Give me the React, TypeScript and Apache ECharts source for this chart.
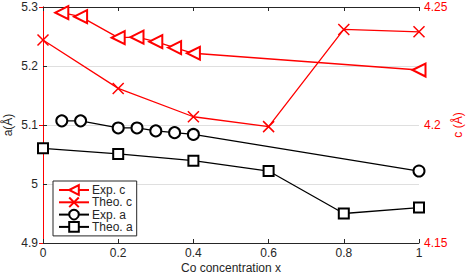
import React, { useEffect, useRef } from "react";
import * as echarts from "echarts";

const xExpC = [0.05, 0.1, 0.2, 0.25, 0.3, 0.35, 0.4, 1.0];
const expC = [4.2476, 4.2459, 4.237, 4.2372, 4.2353, 4.2328, 4.2304, 4.2233];
const xTheo = [0, 0.2, 0.4, 0.6, 0.8, 1.0];
const theoC = [4.236, 4.2155, 4.2035, 4.1993, 4.2405, 4.2395];
const xExpA = [0.05, 0.1, 0.2, 0.25, 0.3, 0.35, 0.4, 1.0];
const expA = [5.107, 5.107, 5.095, 5.095, 5.09, 5.087, 5.084, 5.022];
const theoA = [5.0605, 5.051, 5.0395, 5.022, 4.95, 4.96];

const seriesNames = ["Exp. c", "Theo. c", "Exp. a", "Theo. a"];

const RED = "#ff0000";
const DARK = "#262626";
const FONT = "Liberation Sans";

const pairs = (xs: number[], ys: number[]) => xs.map((x, i) => [x, ys[i]]);

export default function App() {
  const ref = useRef<HTMLDivElement>(null);
  useEffect(() => {
    if (!ref.current) return;
    const chart = echarts.init(ref.current, undefined, { renderer: "svg" });
    const xAxisCommon = {
      type: "value",
      min: 0,
      max: 1,
      interval: 0.2,
      axisLine: { show: true, lineStyle: { color: DARK, width: 1 } },
      axisTick: { show: true, inside: true, length: 4, lineStyle: { color: DARK } },
      splitLine: { show: false },
    };
    chart.setOption({
      animation: false,
      textStyle: { fontFamily: FONT },
      grid: { left: 43, right: 50, top: 7, bottom: 32, containLabel: false, outerBoundsMode: "none" },
      legend: {
        orient: "vertical",
        left: 53,
        top: 181,
        data: seriesNames,
        itemWidth: 30,
        itemHeight: 12,
        itemGap: 0.3,
        padding: [3, 4, 3, 5],
        borderColor: DARK,
        borderWidth: 1,
        backgroundColor: "#fff",
        textStyle: { fontFamily: FONT, fontSize: 12, lineHeight: 12, color: DARK, padding: [0, 0, 0, -2] },
      },
      xAxis: [
        {
          ...xAxisCommon,
          position: "bottom",
          name: "Co concentration x",
          nameLocation: "middle",
          nameGap: 19,
          nameMoveOverlap: false,
          nameTextStyle: { fontFamily: FONT, fontSize: 12, color: DARK },
          axisLabel: { fontFamily: FONT, fontSize: 12, color: DARK, margin: 4 },
        },
        {
          ...xAxisCommon,
          position: "top",
          axisLabel: { show: false },
        },
      ],
      yAxis: [
        {
          type: "value",
          position: "left",
          min: 4.9,
          max: 5.3,
          interval: 0.1,
          name: "a(Å)",
          nameLocation: "middle",
          nameRotate: 90,
          nameGap: 29,
          nameMoveOverlap: false,
          nameTextStyle: { fontFamily: FONT, fontSize: 12, color: DARK },
          axisLine: { show: true, lineStyle: { color: DARK, width: 1 } },
          axisTick: { show: true, inside: true, length: 4, lineStyle: { color: DARK } },
          axisLabel: { fontFamily: FONT, fontSize: 12, color: DARK, margin: 5 },
          splitLine: { show: true, lineStyle: { color: "#dfdfdf", width: 1 } },
        },
        {
          type: "value",
          position: "right",
          min: 4.15,
          max: 4.25,
          interval: 0.05,
          name: "c (Å)",
          nameLocation: "middle",
          nameRotate: 90,
          nameGap: 33,
          nameMoveOverlap: false,
          nameTextStyle: { fontFamily: FONT, fontSize: 12, color: RED },
          axisLine: { show: true, lineStyle: { color: RED, width: 1 } },
          axisTick: { show: true, inside: true, length: 4, lineStyle: { color: RED } },
          axisLabel: { fontFamily: FONT, fontSize: 12, color: RED, margin: 5 },
          splitLine: { show: false },
        },
      ],
      series: [
        {
          name: seriesNames[0],
          type: "line",
          xAxisIndex: 0,
          yAxisIndex: 1,
          data: pairs(xExpC, expC),
          symbol: "emptyTriangle",
          symbolRotate: 90,
          symbolSize: 13,
          lineStyle: { color: RED, width: 1.3 },
          itemStyle: { color: RED, borderColor: RED, borderWidth: 1.3 },
          z: 4,
        },
        {
          name: seriesNames[1],
          type: "line",
          xAxisIndex: 0,
          yAxisIndex: 1,
          data: pairs(xTheo, theoC),
          symbol: "path://M0,0L10,10M10,0L0,10",
          symbolSize: 11,
          lineStyle: { color: RED, width: 1.3 },
          itemStyle: { color: RED, borderColor: RED, borderWidth: 1.5 },
          z: 4,
        },
        {
          name: seriesNames[2],
          type: "line",
          xAxisIndex: 0,
          yAxisIndex: 0,
          data: pairs(xExpA, expA),
          symbol: "emptyCircle",
          symbolSize: 11,
          lineStyle: { color: "#000", width: 1.3 },
          itemStyle: { color: "#000", borderColor: "#000", borderWidth: 1.3 },
          z: 3,
        },
        {
          name: seriesNames[3],
          type: "line",
          xAxisIndex: 0,
          yAxisIndex: 0,
          data: pairs(xTheo, theoA),
          symbol: "emptyRect",
          symbolSize: 10,
          lineStyle: { color: "#000", width: 1.3 },
          itemStyle: { color: "#000", borderColor: "#000", borderWidth: 1.3 },
          z: 3,
        },
      ],
    });
    return () => chart.dispose();
  }, []);
  return (
    <div
      ref={ref}
      style={{ position: "fixed", left: 0, top: 0, width: 469, height: 275, background: "#fff" }}
    />
  );
}
